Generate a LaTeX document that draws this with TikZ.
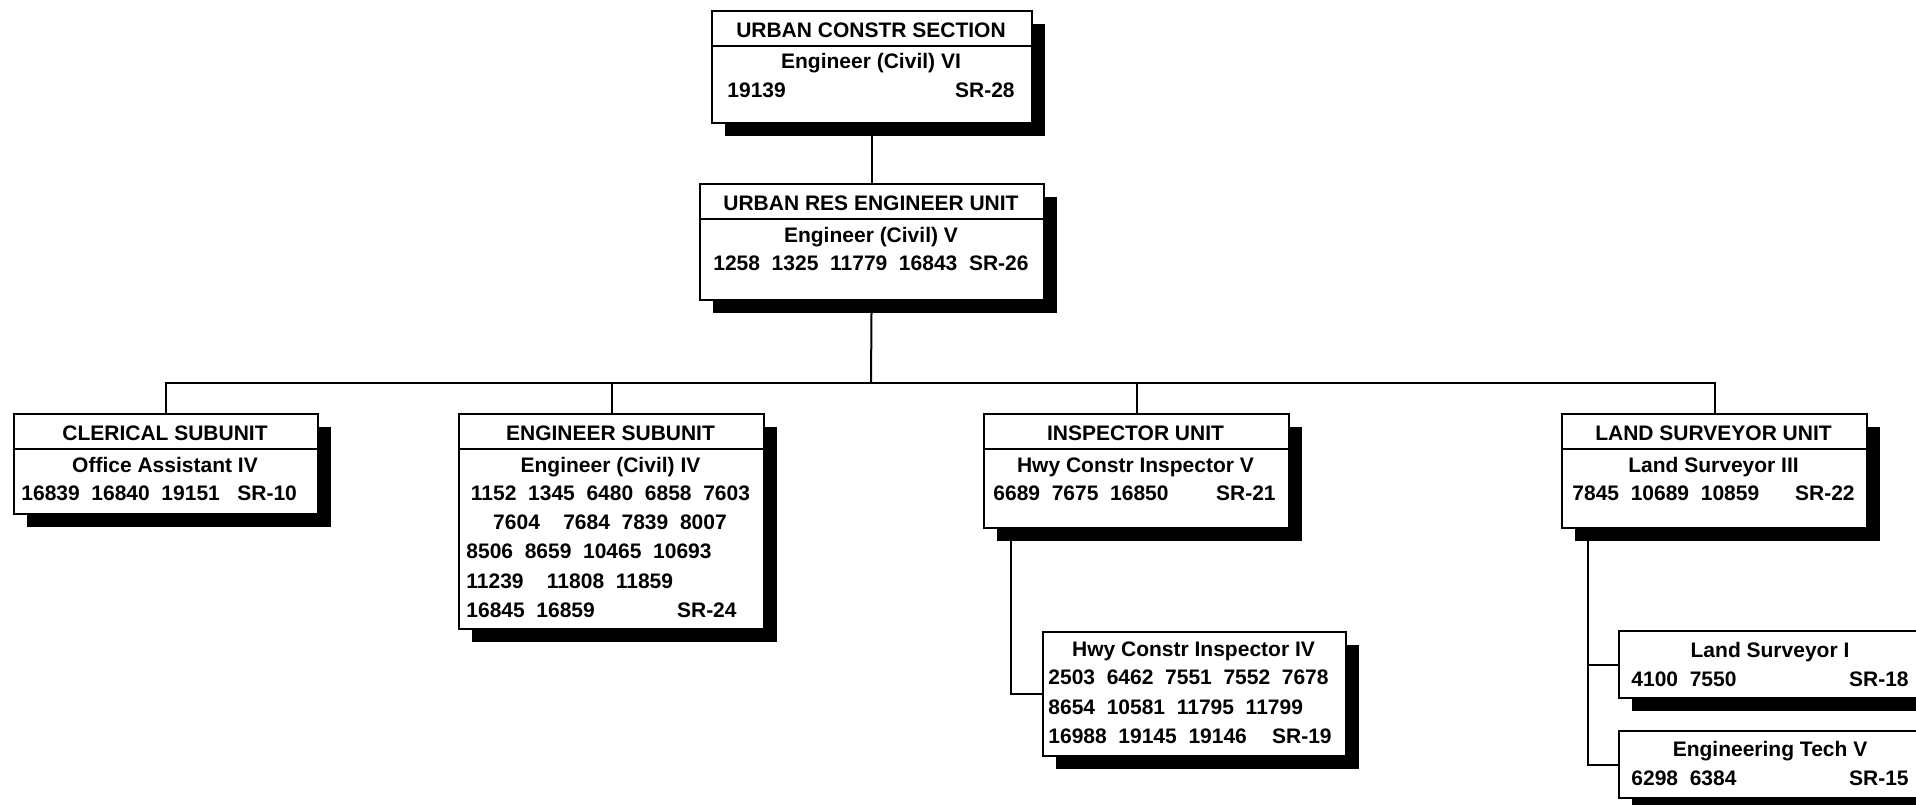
\documentclass[tikz,border=0pt]{standalone}
\usepackage{fontspec}
\setmainfont{Liberation Sans}
\usetikzlibrary{shadows}

\begin{document}
\begin{tikzpicture}[
        x=0.5pt, y=-0.5pt,
        unit/.style={rectangle, draw=black, line width=1pt, fill=white, anchor=north west, inner sep=0pt,
            drop shadow={shadow xshift=6.5pt, shadow yshift=-6.5pt, fill=black, opacity=1}},
        headed/.style={path picture={\draw[line width=1pt] ([yshift=-17.5pt]path picture bounding box.north west) -- ([yshift=-17.5pt]path picture bounding box.north east);}},
        txt/.style={font=\fontsize{10.5}{12}\selectfont\bfseries, inner sep=0pt, anchor=base},
        left/.style={txt, anchor=base west},
        right/.style={txt, anchor=base east},
        link/.style={line width=1pt, draw=black}
    ]
        \useasboundingbox (0,0) rectangle (1916,804);
        \clip (0,0) rectangle (1916,804);

        % boxes
        \node[unit, headed, minimum width=160pt, minimum height=56pt] (sect) at (711,10) {};
        \node[unit, headed, minimum width=172pt, minimum height=58pt] (res) at (699,183) {};
        \node[unit, headed, minimum width=152pt, minimum height=50pt] (cler) at (13,413) {};
        \node[unit, headed, minimum width=152.5pt, minimum height=107.5pt] (engr) at (458,413) {};
        \node[unit, headed, minimum width=152.5pt, minimum height=57pt] (insp) at (983,413) {};
        \node[unit, headed, minimum width=152.5pt, minimum height=57pt] (land) at (1561,413) {};
        \node[unit, minimum width=151.5pt, minimum height=62pt] (hwy) at (1042,631) {};
        \node[unit, minimum width=152.5pt, minimum height=33.5pt] (ls1) at (1618,630) {};
        \node[unit, minimum width=152.5pt, minimum height=33.5pt] (etv) at (1618,730) {};

        % texts
        \node[txt] (sect-t) at (871,37) {URBAN CONSTR SECTION};
        \node[txt] (sect-1) at (871,68) {Engineer (Civil) VI};
        \node[left] (sect-2) at (727,97) {19139};
        \node[right] (sect-sr) at (1015,97) {SR-28};

        \node[txt] (res-t) at (871,210) {URBAN RES ENGINEER UNIT};
        \node[txt] (res-1) at (871,242) {Engineer (Civil) V};
        \node[txt] (res-2) at (871,270) {1258~~1325~~11779~~16843~~SR-26};

        \node[txt] (cler-t) at (165,440) {CLERICAL SUBUNIT};
        \node[txt] (cler-1) at (165,472) {Office Assistant IV};
        \node[left] (cler-2) at (21,500) {16839~~16840~~19151~~~SR-10};

        \node[txt] (engr-t) at (610.5,440) {ENGINEER SUBUNIT};
        \node[txt] (engr-1) at (610.5,472) {Engineer (Civil) IV};
        \node[txt] (engr-2) at (610.5,500) {1152~~1345~~6480~~6858~~7603};
        \node[txt] (engr-3) at (610,529) {7604~~~~7684~~7839~~8007};
        \node[left] (engr-4) at (466,558) {8506~~8659~~10465~~10693};
        \node[left] (engr-5) at (466,588) {11239~~~~11808~~11859};
        \node[left] (engr-6) at (466,617) {16845~~16859};
        \node[right] (engr-sr) at (737,617) {SR-24};

        \node[txt] (insp-t) at (1135.5,440) {INSPECTOR UNIT};
        \node[txt] (insp-1) at (1135.5,472) {Hwy Constr Inspector V};
        \node[left] (insp-2) at (993,500) {6689~~7675~~16850};
        \node[right] (insp-sr) at (1276,500) {SR-21};

        \node[txt] (hwy-1) at (1193.5,656) {Hwy Constr Inspector IV};
        \node[left] (hwy-2) at (1048,684) {2503~~6462~~7551~~7552~~7678};
        \node[left] (hwy-3) at (1048,714) {8654~~10581~~11795~~11799};
        \node[left] (hwy-4) at (1048,743) {16988~~19145~~19146};
        \node[right] (hwy-sr) at (1332,743) {SR-19};

        \node[txt] (land-t) at (1713.5,440) {LAND SURVEYOR UNIT};
        \node[txt] (land-1) at (1713.5,472) {Land Surveyor III};
        \node[left] (land-2) at (1572,500) {7845~~10689~~10859};
        \node[right] (land-sr) at (1855,500) {SR-22};

        \node[txt] (ls1-1) at (1770,657) {Land Surveyor I};
        \node[left] (ls1-2) at (1631,686) {4100~~7550};
        \node[right] (ls1-sr) at (1909,686) {SR-18};

        \node[txt] (etv-1) at (1770,756) {Engineering Tech V};
        \node[left] (etv-2) at (1631,785) {6298~~6384};
        \node[right] (etv-sr) at (1909,785) {SR-15};

        % connectors
        \coordinate (bus) at (871,383);
        \coordinate (insptap) at ([xshift=14pt]insp.south west);
        \coordinate (landtap) at ([xshift=13.5pt]land.south west);
        \draw[link] (sect) -- (res);
        \draw[link] (res) -- (bus);
        \draw[link] (bus) -| (cler);
        \draw[link] (bus) -| (engr);
        \draw[link] (bus) -| (insp);
        \draw[link] (bus) -| (land);
        \draw[link] (insptap) |- (hwy.west);
        \draw[link] (landtap) |- (etv.west);
        \draw[link] (landtap |- ls1.west) -- (ls1.west);
    \end{tikzpicture}
\end{document}
